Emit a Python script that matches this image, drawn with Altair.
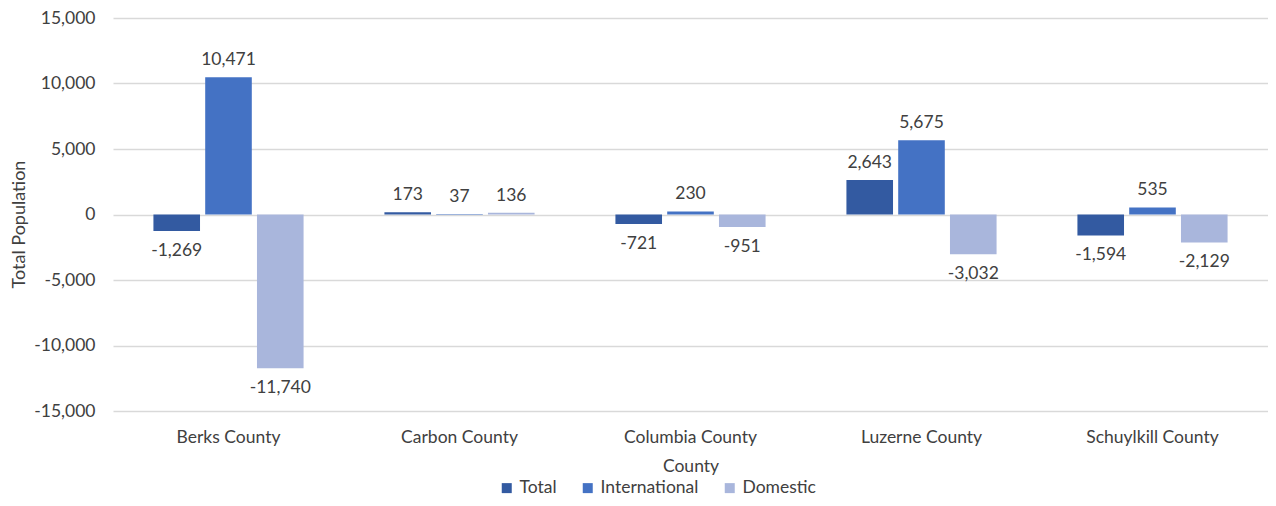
import altair as alt
import pandas as pd

counties = ["Berks County", "Carbon County", "Columbia County", "Luzerne County", "Schuylkill County"]
series = ["Total", "International", "Domestic"]
total = [-1269, 173, -721, 2643, -1594]
international = [10471, 37, 230, 5675, 535]
domestic = [-11740, 136, -951, -3032, -2129]
colors = ["#335AA1", "#4472C4", "#A9B6DC"]

rows = []
for i, c in enumerate(counties):
    for s, vals in zip(series, [total, international, domestic]):
        v = vals[i]
        rows.append({"County": c, "Series": s, "Value": v,
                     "Label": f"{v:,}", "Order": series.index(s)})
df = pd.DataFrame(rows)

FONT = "Lato"
TXT = "#404040"
FS = 17.5

x = alt.X("County:N", sort=counties, title="County",
          scale=alt.Scale(paddingInner=0.35, paddingOuter=0.175),
          axis=alt.Axis(labelAngle=0, labelFontSize=FS, labelColor=TXT, labelFont=FONT,
                        titleFontSize=FS, titleColor=TXT, titleFont=FONT, titleFontWeight="normal",
                        tickSize=0, domain=False, labelPadding=17, titlePadding=12))
xo = alt.XOffset("Series:N", sort=series, scale=alt.Scale(paddingInner=0.1))
y = alt.Y("Value:Q", title="Total Population",
          scale=alt.Scale(domain=[-15000, 15000], nice=False),
          axis=alt.Axis(values=list(range(-15000, 15001, 5000)),
                        labelExpr="replace(format(datum.value, ','), '\u2212', '-')",
                        labelFontSize=FS, labelColor=TXT, labelFont=FONT, labelPadding=18,
                        titleFontSize=18, titleColor=TXT, titleFont=FONT, titleFontWeight="normal",
                        titlePadding=5, titleY=206, tickSize=0, domain=False,
                        grid=True, gridColor="#D9D9D9", gridWidth=1.3))

bars = alt.Chart(df).mark_bar().encode(
    x=x, xOffset=xo, y=y,
    color=alt.Color("Series:N", sort=series,
                    scale=alt.Scale(domain=series, range=colors),
                    legend=alt.Legend(title=None, orient="none", direction="horizontal",
                                      legendX=385, legendY=461,
                                      symbolType="square", symbolSize=100, symbolStrokeWidth=0,
                                      symbolOffset=0, labelOffset=4,
                                      labelFontSize=FS, labelColor=TXT, labelFont=FONT,
                                      columnPadding=22)),
)

pos = alt.Chart(df).transform_filter("datum.Value >= 0").mark_text(
    baseline="bottom", dy=-8, fontSize=FS, font=FONT, color=TXT
).encode(x=alt.X("County:N", sort=counties), xOffset=alt.XOffset("Series:N", sort=series),
         y="Value:Q", text="Label:N")
neg = alt.Chart(df).transform_filter("datum.Value < 0").mark_text(
    baseline="top", dy=11, fontSize=FS, font=FONT, color=TXT
).encode(x=alt.X("County:N", sort=counties), xOffset=alt.XOffset("Series:N", sort=series),
         y="Value:Q", text="Label:N")

chart = alt.layer(bars, pos, neg).properties(
    width=1155, height=393,
    autosize=alt.AutoSizeParams(type="none"),
    padding={"left": 105, "top": 10, "right": 0, "bottom": 87},
).configure_view(stroke=None)

chart.save("out.html", embed_options={"renderer": "svg", "actions": False})
